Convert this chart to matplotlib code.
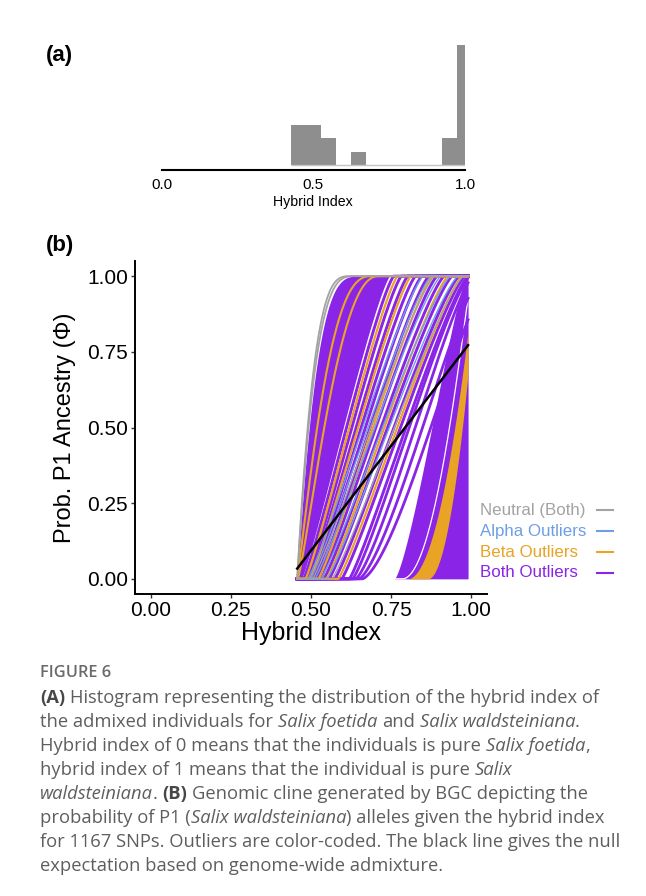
import numpy as np
import matplotlib
matplotlib.use("Agg")
import matplotlib.pyplot as plt
from matplotlib.lines import Line2D

# ---- panel (a): histogram of hybrid index ----
bin_left = [0.425, 0.475, 0.525, 0.575, 0.625, 0.675, 0.725, 0.775, 0.825, 0.875, 0.925, 0.975]
bin_count = [3, 3, 2, 0, 1, 0, 0, 0, 0, 0, 2, 9]
bin_width = 0.05

# ---- panel (b): genomic clines, each curve = (start, end, shape a, shape b) ----
h_range = [0.457, 0.99]
null_x = [0.457, 0.99]
null_y = [0.034, 0.772]

# stripe-zone clines share one shape
mid_shape = (1.15, 1.25)
both_left_edge = (0.457, 0.650, 1.0, 3.2)
both_first_mid = (0.470, 0.745, 1.15, 1.25)
both_mid = [(0.477, 0.758), (0.487, 0.782), (0.494, 0.802), (0.502, 0.826),
            (0.509, 0.846), (0.518, 0.868), (0.529, 0.893), (0.540, 0.915), (0.556, 0.940),
            (0.574, 0.962), (0.596, 0.980), (0.620, 0.990)]
both_upper = [(0.630, 0.995, 1.2, 1.28), (0.640, 1.005, 1.3, 1.3), (0.650, 1.030, 1.4, 1.35),
              (0.660, 1.060, 1.5, 1.4)]
both_right_edge = (0.760, 0.985, 1.35, 1.3)
gap_right = [(0.785, 1.000, 2.0, 1.1)]

gray_left = [(0.457, 0.624, 1.0, 3.2), (0.457, 0.638, 1.0, 3.2)]
gray_mid = [(0.505, 0.885), (0.565, 0.975)]
blue_mid = [(0.490, 0.850), (0.498, 0.875), (0.512, 0.905), (0.530, 0.935), (0.550, 0.958)]
orange_left = [(0.457, 0.690, 1.1, 2.6), (0.459, 0.712, 1.2, 2.3)]
orange_mid = [(0.483, 0.770), (0.497, 0.812), (0.523, 0.880), (0.548, 0.928), (0.585, 0.972)]
beta_band_left = (0.800, 1.010, 2.0, 1.0)
beta_band_right = (0.864, 1.017, 2.0, 1.0)

legend_labels = ["Neutral (Both)", "Alpha Outliers", "Beta Outliers", "Both Outliers"]
legend_colors = ["#a3a3a3", "#6f9ee8", "#e9a325", "#8a24e6"]
GRAY, BLUE, ORANGE, PURPLE = legend_colors


def cline(h, p):
    x0, x1, a, b = p
    t = np.clip((h - x0) / (x1 - x0), 0, 1)
    return 1 - (1 - t ** a) ** b


fig = plt.figure(figsize=(6.46, 8.96), dpi=100)
W, H = 646.0, 896.0
sans = ["Liberation Sans", "DejaVu Sans"]

# panel (a)
axa = fig.add_axes([161.7 / W, 1 - 170 / H, 303.3 / W, 125 / H])
axa.hlines(0, bin_left[0], bin_left[-1] + bin_width, color="#c4c4c4", lw=1.0)
axa.bar(bin_left, bin_count, width=bin_width, align="edge", color="#8e8e8e", lw=0)
axa.set_xlim(0, 1)
axa.set_ylim(-0.375, 9)
for s in ["top", "right", "left"]:
    axa.spines[s].set_visible(False)
axa.spines["bottom"].set_linewidth(1.5)
axa.set_yticks([])
axa.set_xticks([0, 0.5, 1.0])
axa.set_xticklabels(["0.0", "0.5", "1.0"], family=sans, fontsize=11)
axa.tick_params(axis="x", length=0, pad=6)
axa.set_xlabel("Hybrid Index", family=sans, fontsize=10.2, labelpad=2)

# panel (b)
axb = fig.add_axes([134.7 / W, 1 - 594 / H, 352.6 / W, 333 / H])
h = np.linspace(h_range[0], h_range[1], 600)


def mid(p):
    return cline(h, (p[0], p[1]) + mid_shape)


axb.fill_between(h, cline(h, both_first_mid), cline(h, both_left_edge), color=PURPLE, lw=0)
axb.fill_between(h, 0, cline(h, both_right_edge), color=PURPLE, lw=0)
for p in gap_right:
    axb.plot(h, cline(h, p), color="white", lw=0.9)
for p in both_mid:
    axb.plot(h, mid(p), color=PURPLE, lw=2.1)
for p in both_upper:
    axb.plot(h, cline(h, p), color=PURPLE, lw=2.0)
axb.fill_between(h, cline(h, beta_band_right), cline(h, beta_band_left), color=ORANGE, lw=0)
for p in orange_left:
    axb.plot(h, cline(h, p), color=ORANGE, lw=1.5)
for p in orange_mid:
    axb.plot(h, mid(p), color=ORANGE, lw=1.6)
for p in blue_mid:
    axb.plot(h, mid(p), color=BLUE, lw=1.0)
for p in gray_left:
    axb.plot(h, cline(h, p), color=GRAY, lw=1.3)
for p in gray_mid:
    axb.plot(h, mid(p), color=GRAY, lw=1.0)
axb.plot(null_x, null_y, color="black", lw=1.8)

axb.set_xlim(-0.05, 1.05)
axb.set_ylim(-0.05, 1.05)
ticks = [0, 0.25, 0.5, 0.75, 1.0]
tick_labels = ["0.00", "0.25", "0.50", "0.75", "1.00"]
axb.set_xticks(ticks)
axb.set_yticks(ticks)
axb.set_xticklabels(tick_labels, family=sans, fontsize=15)
axb.set_yticklabels(tick_labels, family=sans, fontsize=15)
axb.tick_params(length=3, width=1, color="#333333", pad=2)
for s in ["top", "right"]:
    axb.spines[s].set_visible(False)
for s in ["left", "bottom"]:
    axb.spines[s].set_linewidth(1.4)
axb.set_xlabel("Hybrid Index", family=sans, fontsize=18, labelpad=1)
axb.set_ylabel("Prob. P1 Ancestry (Φ)", family=sans, fontsize=17, labelpad=8)

# legend (text left, key right)
row_y = [510.5, 531.2, 552, 572.6]
for lab, col, y in zip(legend_labels, legend_colors, row_y):
    fig.text(480 / W, 1 - y / H, lab, color=col, family=sans, fontsize=12.2, va="center", ha="left")
    fig.add_artist(Line2D([596.7 / W, 613.3 / W], [1 - y / H, 1 - y / H], color=col, lw=1.5))

fig.text(46 / W, 1 - 56 / H, "(a)", family=sans, fontsize=16, fontweight="bold", va="center")
fig.text(46 / W, 1 - 245 / H, "(b)", family=sans, fontsize=16, fontweight="bold", va="center")

# caption
cap = ["Open Sans", "DejaVu Sans"]
cap_col = "#5e5e5e"
fig.text(40 / W, 1 - 673 / H, "FIGURE 6", family=cap, fontsize=11.8, fontweight="semibold",
         color="#6a6a6a", va="center")
caption = [
    [("(A)", "bold"), (" Histogram representing the distribution of the hybrid index of", "normal")],
    [("the admixed individuals for", "normal"), (" Salix foetida", "italic"), (" and", "normal"),
     (" Salix waldsteiniana", "italic"), (".", "normal")],
    [("Hybrid index of 0 means that the individuals is pure", "normal"), (" Salix foetida", "italic"),
     (",", "normal")],
    [("hybrid index of 1 means that the individual is pure", "normal"), (" Salix", "italic")],
    [("waldsteiniana", "italic"), (".", "normal"), (" (B)", "bold"),
     (" Genomic cline generated by BGC depicting the", "normal")],
    [("probability of P1 (", "normal"), ("Salix waldsteiniana", "italic"),
     (") alleles given the hybrid index", "normal")],
    [("for 1167 SNPs. Outliers are color-coded. The black line gives the null", "normal")],
    [("expectation based on genome-wide admixture.", "normal")],
]
cap_fs = 13.25
space_px = 0.26 * cap_fs * 100 / 72
renderer = fig.canvas.get_renderer()
for i, line in enumerate(caption):
    y = 1 - (703 + 24 * i) / H
    x = 40.0
    for seg, style in line:
        if seg.startswith(" "):
            x += space_px
            seg = seg[1:]
        kw = dict(family=cap, fontsize=cap_fs, color=cap_col, va="baseline")
        if style == "bold":
            kw["fontweight"] = "bold"
            kw["color"] = "#474747"
        elif style == "italic":
            kw["style"] = "italic"
        t = fig.text(x / W, y, seg, **kw)
        x += t.get_window_extent(renderer).width

fig.savefig("out.png", dpi=100)
